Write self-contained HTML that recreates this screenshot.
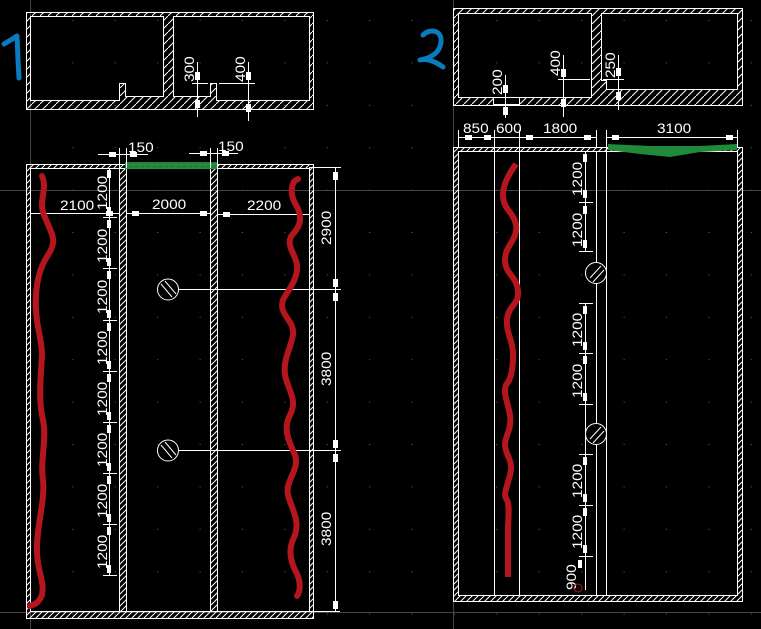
<!DOCTYPE html>
<html><head><meta charset="utf-8">
<style>
html,body{margin:0;padding:0;background:#000;}
svg{display:block;}
text{font-family:"Liberation Sans",sans-serif;fill:#fff;font-size:14px;}
</style></head>
<body>
<svg width="761" height="629" viewBox="0 0 761 629" xmlns="http://www.w3.org/2000/svg">
<defs>
<pattern id="h" width="6" height="6" patternUnits="userSpaceOnUse">
<path d="M-1,7 L7,-1 M-4,4 L4,-4 M2,10 L10,2" stroke="#fff" stroke-width="1"/>
</pattern>
<pattern id="hb" width="8" height="8" patternUnits="userSpaceOnUse" patternTransform="scale(1)">
<path d="M0,8 L8,0" stroke="#fff" stroke-width="1"/>
</pattern>
<pattern id="dots" width="42.4" height="42.4" patternUnits="userSpaceOnUse" x="30" y="20">
<rect x="0" y="0" width="1" height="1" fill="#666"/>
</pattern>
</defs>
<rect width="761" height="629" fill="#000"/>
<rect width="761" height="629" fill="url(#dots)"/>
<!-- gray axes -->
<g stroke="#444" stroke-width="1">
<line x1="30.5" y1="0" x2="30.5" y2="629"/>
<line x1="453.5" y1="0" x2="453.5" y2="629"/>
<line x1="0" y1="190.5" x2="761" y2="190.5"/>
<line x1="0" y1="612.5" x2="761" y2="612.5"/>
</g>

<!-- ===== Drawing 1 top section ===== -->
<path fill="url(#hb)" fill-rule="evenodd" stroke="#fff" stroke-width="1"
d="M26.5,12.5 H313.5 V109.5 H26.5 Z
M30.5,16.5 H163.5 V96.5 H125.5 V83.5 H119.5 V100.5 H30.5 Z
M173.5,16.5 H309.5 V100.5 H216.5 V83.5 H210.5 V96.5 H173.5 Z"/>
<g stroke="#fff" stroke-width="1" fill="none">
<line x1="197.5" y1="62" x2="197.5" y2="117"/>
<line x1="192" y1="83.5" x2="208" y2="83.5"/>
<line x1="248.5" y1="62" x2="248.5" y2="121"/>
<line x1="219" y1="83.5" x2="255" y2="83.5"/>
</g>
<g fill="#fff">
<rect x="195" y="72" width="5" height="8"/><rect x="195" y="100" width="5" height="8"/>
<rect x="246" y="72" width="5" height="8"/><rect x="246" y="104" width="5" height="8"/>
</g>
<text transform="translate(194,82) rotate(-90) scale(1.1,1)">300</text>
<text transform="translate(245,82) rotate(-90) scale(1.1,1)">400</text>

<!-- ===== Drawing 1 plan ===== -->
<path fill="url(#h)" fill-rule="evenodd" stroke="#fff" stroke-width="1"
d="M26.5,164.5 H313.5 V618.5 H26.5 Z M30.5,168.5 H309.5 V611.5 H30.5 Z"/>
<rect x="119.5" y="168.5" width="7" height="443" fill="url(#h)" stroke="#fff"/>
<rect x="210.5" y="168.5" width="7" height="443" fill="url(#h)" stroke="#fff"/>
<rect x="125" y="162" width="92" height="7" fill="#1e8a3a" opacity="0.95"/>
<!-- 150 dims -->
<g stroke="#fff" stroke-width="1">
<line x1="98" y1="154.5" x2="148" y2="154.5"/>
<line x1="189" y1="153.5" x2="238" y2="153.5"/>
<line x1="119.5" y1="148" x2="119.5" y2="168"/><line x1="126.5" y1="148" x2="126.5" y2="168"/>
<line x1="210.5" y1="148" x2="210.5" y2="168"/><line x1="217.5" y1="148" x2="217.5" y2="168"/>
</g>
<g fill="#fff"><rect x="109" y="152" width="7" height="5"/><rect x="130" y="152" width="7" height="5"/>
<rect x="200" y="151" width="7" height="5"/><rect x="222" y="151" width="7" height="5"/></g>
<text transform="translate(128,152) scale(1.1,1)">150</text>
<text transform="translate(218,151) scale(1.1,1)">150</text>
<!-- horizontal dims y213 -->
<g stroke="#fff"><line x1="30" y1="213.5" x2="119" y2="213.5"/><line x1="126" y1="213.5" x2="210" y2="213.5"/><line x1="217" y1="214.5" x2="309" y2="214.5"/></g>
<g fill="#fff"><rect x="106" y="211" width="7" height="5"/><rect x="132" y="211" width="7" height="5"/><rect x="200" y="211" width="7" height="5"/><rect x="223" y="212" width="7" height="5"/></g>
<text transform="translate(60,210) scale(1.1,1)">2100</text>
<text transform="translate(152,209) scale(1.1,1)">2000</text>
<text transform="translate(247,210) scale(1.1,1)">2200</text>
<!-- left dim column -->
<g stroke="#fff"><line x1="109.5" y1="168" x2="109.5" y2="576"/>
<line x1="103" y1="217.5" x2="117" y2="217.5"/><line x1="103" y1="268.5" x2="117" y2="268.5"/><line x1="103" y1="320.5" x2="117" y2="320.5"/><line x1="103" y1="371.5" x2="117" y2="371.5"/><line x1="103" y1="422.5" x2="117" y2="422.5"/><line x1="103" y1="473.5" x2="117" y2="473.5"/><line x1="103" y1="524.5" x2="117" y2="524.5"/><line x1="103" y1="575.5" x2="117" y2="575.5"/></g>
<g fill="#fff">
<rect x="107" y="170" width="4" height="8"/><rect x="107" y="207" width="4" height="8"/>
<rect x="107" y="220" width="4" height="8"/><rect x="107" y="258" width="4" height="8"/>
<rect x="107" y="271" width="4" height="8"/><rect x="107" y="310" width="4" height="8"/>
<rect x="107" y="323" width="4" height="8"/><rect x="107" y="361" width="4" height="8"/>
<rect x="107" y="374" width="4" height="8"/><rect x="107" y="412" width="4" height="8"/>
<rect x="107" y="425" width="4" height="8"/><rect x="107" y="463" width="4" height="8"/>
<rect x="107" y="476" width="4" height="8"/><rect x="107" y="514" width="4" height="8"/>
<rect x="107" y="527" width="4" height="8"/><rect x="107" y="565" width="4" height="8"/>
</g>
<g>
<text transform="translate(107,210) rotate(-90) scale(1.1,1)">1200</text>
<text transform="translate(107,263) rotate(-90) scale(1.1,1)">1200</text>
<text transform="translate(107,314) rotate(-90) scale(1.1,1)">1200</text>
<text transform="translate(107,365) rotate(-90) scale(1.1,1)">1200</text>
<text transform="translate(107,416) rotate(-90) scale(1.1,1)">1200</text>
<text transform="translate(107,467) rotate(-90) scale(1.1,1)">1200</text>
<text transform="translate(107,518) rotate(-90) scale(1.1,1)">1200</text>
<text transform="translate(107,569) rotate(-90) scale(1.1,1)">1200</text>
</g>
<!-- right dims -->
<g stroke="#fff"><line x1="335.5" y1="168" x2="335.5" y2="611"/>
<line x1="309" y1="167.5" x2="341" y2="167.5"/>
<line x1="172" y1="289.5" x2="341" y2="289.5"/>
<line x1="172" y1="450.5" x2="341" y2="450.5"/>
<line x1="309" y1="611.5" x2="340" y2="611.5"/></g>
<g fill="#fff"><rect x="333" y="172" width="5" height="8"/><rect x="333" y="279" width="5" height="8"/><rect x="333" y="293" width="5" height="8"/><rect x="333" y="440" width="5" height="8"/><rect x="333" y="454" width="5" height="8"/><rect x="333" y="601" width="5" height="8"/></g>
<text transform="translate(331,245) rotate(-90) scale(1.1,1)">2900</text>
<text transform="translate(331,386) rotate(-90) scale(1.1,1)">3800</text>
<text transform="translate(331,546) rotate(-90) scale(1.1,1)">3800</text>
<!-- circles -->
<g stroke="#fff" fill="#000"><circle cx="168" cy="289.5" r="10.5"/><circle cx="168" cy="450.5" r="10.5"/></g>
<g stroke="#fff"><line x1="161" y1="284" x2="172" y2="297"/><line x1="165" y1="281" x2="176" y2="294"/><line x1="161" y1="445" x2="172" y2="458"/><line x1="165" y1="442" x2="176" y2="455"/></g>
<!-- red squiggles -->
<g fill="none" stroke="#b5161e" stroke-width="6" stroke-linecap="round" stroke-linejoin="round">
<path d="M42,176 C48,190 38,200 44,215 C52,235 58,240 48,255 C38,270 35,290 36,310 C37,330 42,340 42,355 C41,375 38,400 43,420 C47,440 40,460 43,480 C45,500 38,520 37,545 C36,570 45,580 42,595 C38,605 32,605 30,606"/>
<path d="M298,179 C290,182 290,195 296,205 C302,215 302,225 292,235 C285,245 296,255 297,265 C298,280 288,290 283,300 C278,315 295,320 293,335 C290,350 283,360 285,375 C288,390 298,400 290,415 C283,428 288,440 295,455 C300,470 285,480 288,495 C292,510 300,520 295,535 C290,545 288,555 295,570 C302,582 300,592 297,596"/>
</g>
<!-- blue 1 -->
<path d="M4,44 L14,38 L17,36 L18,60 L19,78" fill="none" stroke="#0a7bbf" stroke-width="5" stroke-linecap="round" stroke-linejoin="round"/>

<!-- ===== Drawing 2 top section ===== -->
<path fill="url(#hb)" fill-rule="evenodd" stroke="#fff" stroke-width="1"
d="M453.5,8.5 H742.5 V105.5 H453.5 Z
M458.5,13.5 H591.5 V97.5 H519.5 V104.5 H493.5 V97.5 H458.5 Z
M601.5,13.5 H737.5 V89.5 H606.5 V80.5 H601.5 Z"/>
<g stroke="#fff" fill="none">
<line x1="505.5" y1="75" x2="505.5" y2="118"/><line x1="493" y1="97.5" x2="519" y2="97.5"/>
<line x1="563.5" y1="55" x2="563.5" y2="117"/><line x1="558" y1="79.5" x2="590" y2="79.5"/>
<line x1="618.5" y1="55" x2="618.5" y2="110"/><line x1="603" y1="79.5" x2="624" y2="79.5"/>
</g>
<g fill="#fff"><rect x="503" y="85" width="5" height="8"/><rect x="503" y="107" width="5" height="8"/>
<rect x="561" y="69" width="5" height="8"/><rect x="561" y="99" width="5" height="8"/>
<rect x="616" y="68" width="5" height="8"/><rect x="616" y="92" width="5" height="8"/></g>
<text transform="translate(502,95) rotate(-90) scale(1.1,1)">200</text>
<text transform="translate(560,76) rotate(-90) scale(1.1,1)">400</text>
<text transform="translate(615,78) rotate(-90) scale(1.1,1)">250</text>
<!-- blue 2 -->
<path d="M423,35 C430,28 442,30 441,42 C440,52 432,58 420,60 C428,58 436,62 443,67" fill="none" stroke="#0a7bbf" stroke-width="5" stroke-linecap="round" stroke-linejoin="round"/>

<!-- top dims of plan 2 -->
<g stroke="#fff">
<line x1="458" y1="137.5" x2="596" y2="137.5"/><line x1="606" y1="137.5" x2="737" y2="137.5"/>
<line x1="458.5" y1="130" x2="458.5" y2="147"/><line x1="494.5" y1="130" x2="494.5" y2="151"/><line x1="519.5" y1="130" x2="519.5" y2="151"/><line x1="596.5" y1="130" x2="596.5" y2="147"/><line x1="606.5" y1="130" x2="606.5" y2="147"/><line x1="737.5" y1="130" x2="737.5" y2="147"/>
</g>
<g fill="#fff"><rect x="465" y="135" width="7" height="5"/><rect x="484" y="135" width="7" height="5"/><rect x="526" y="135" width="7" height="5"/><rect x="584" y="135" width="7" height="5"/><rect x="612" y="135" width="7" height="5"/><rect x="726" y="135" width="7" height="5"/></g>
<text transform="translate(463,133) scale(1.1,1)">850</text>
<text transform="translate(496,133) scale(1.1,1)">600</text>
<text transform="translate(543,133) scale(1.1,1)">1800</text>
<text transform="translate(657,133) scale(1.1,1)">3100</text>

<!-- plan 2 -->
<path fill="url(#h)" fill-rule="evenodd" stroke="#fff" stroke-width="1"
d="M453.5,147.5 H742.5 V601.5 H453.5 Z M458.5,151.5 H737.5 V595.5 H458.5 Z"/>
<g stroke="#fff">
<line x1="494.5" y1="151" x2="494.5" y2="595"/><line x1="519.5" y1="151" x2="519.5" y2="595"/>
<line x1="596.5" y1="151" x2="596.5" y2="595"/><line x1="606.5" y1="147" x2="606.5" y2="595"/>
</g>
<path d="M608,144 L650,146 L700,146 L737,144 L737,150 L700,152 L670,157 L640,154 L608,150 Z" fill="#1e8a3a"/>
<!-- dims column -->
<g stroke="#fff">
<line x1="585.5" y1="152" x2="585.5" y2="252"/>
<line x1="585.5" y1="303" x2="585.5" y2="590"/>
<line x1="579" y1="202.5" x2="593" y2="202.5"/><line x1="579" y1="251.5" x2="593" y2="251.5"/>
<line x1="579" y1="303.5" x2="593" y2="303.5"/><line x1="579" y1="353.5" x2="593" y2="353.5"/><line x1="579" y1="404.5" x2="593" y2="404.5"/>
<line x1="579" y1="454.5" x2="593" y2="454.5"/><line x1="579" y1="505.5" x2="593" y2="505.5"/><line x1="579" y1="556.5" x2="593" y2="556.5"/>
</g>
<g fill="#fff">
<rect x="583" y="154" width="4" height="8"/><rect x="583" y="190" width="4" height="8"/>
<rect x="583" y="206" width="4" height="8"/><rect x="583" y="240" width="4" height="8"/>
<rect x="583" y="306" width="4" height="8"/><rect x="583" y="342" width="4" height="8"/>
<rect x="583" y="356" width="4" height="8"/><rect x="583" y="393" width="4" height="8"/>
<rect x="583" y="457" width="4" height="8"/><rect x="583" y="494" width="4" height="8"/>
<rect x="583" y="508" width="4" height="8"/><rect x="583" y="545" width="4" height="8"/>
<rect x="578" y="560" width="4" height="8"/>
</g>
<text transform="translate(582,196) rotate(-90) scale(1.1,1)">1200</text>
<text transform="translate(582,247) rotate(-90) scale(1.1,1)">1200</text>
<text transform="translate(582,347) rotate(-90) scale(1.1,1)">1200</text>
<text transform="translate(582,398) rotate(-90) scale(1.1,1)">1200</text>
<text transform="translate(582,498) rotate(-90) scale(1.1,1)">1200</text>
<text transform="translate(582,549) rotate(-90) scale(1.1,1)">1200</text>
<text transform="translate(576,590) rotate(-90) scale(1.1,1)">900</text>
<circle cx="578" cy="588" r="4" fill="none" stroke="#b5161e"/>
<g stroke="#fff" fill="#000"><circle cx="596" cy="273" r="10.5"/><circle cx="596" cy="434" r="10.5"/></g>
<g stroke="#fff"><line x1="590" y1="278" x2="601" y2="266"/><line x1="593" y1="282" x2="604" y2="270"/><line x1="590" y1="439" x2="601" y2="427"/><line x1="593" y1="443" x2="604" y2="431"/></g>
<!-- red squiggle 2 -->
<path d="M516,164 C508,175 503,185 503,195 C503,210 514,212 516,225 C518,240 505,245 505,260 C505,275 517,275 518,292 C519,305 508,305 507,320 C506,335 514,340 513,360 C512,375 510,380 506,385 C503,392 507,400 510,415 C512,430 505,435 505,445 C505,455 514,460 510,475 C506,490 503,495 507,500 C510,505 508,520 508,530 L508,577" fill="none" stroke="#b5161e" stroke-width="6" stroke-linejoin="round"/>
</svg>
</body></html>
